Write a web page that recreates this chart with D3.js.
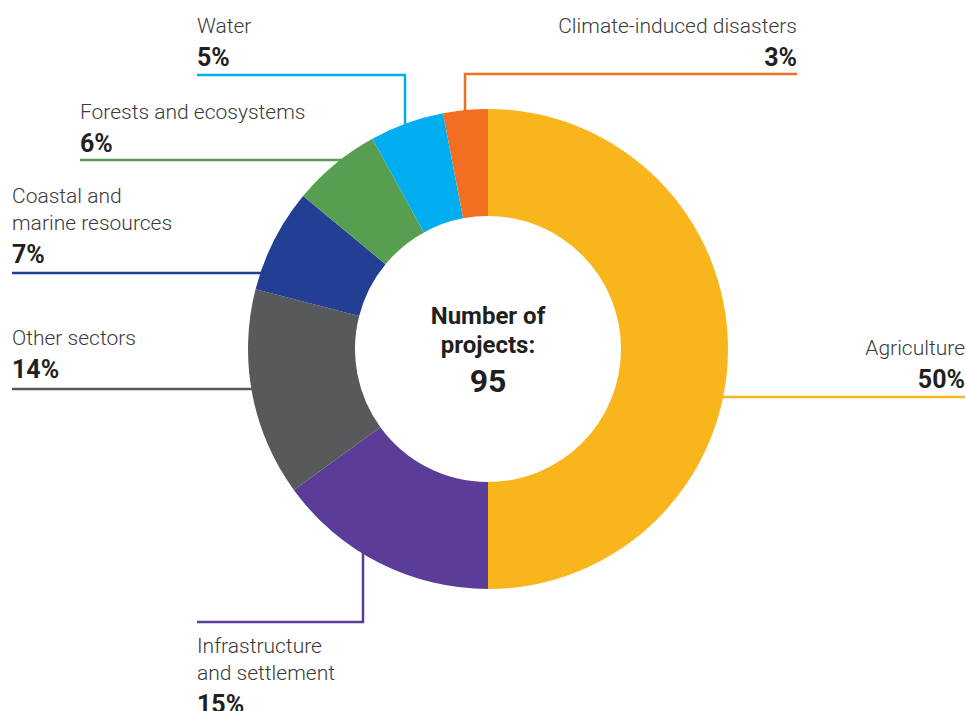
<!DOCTYPE html>
<html>
<head>
<meta charset="utf-8">
<script src="https://cdn.jsdelivr.net/npm/d3@7"></script>
<style>
  html, body { margin: 0; padding: 0; background: #fff; }
  svg { display: block; }
  .lbl { font-family: Roboto, "Open Sans", sans-serif; font-weight: 300; font-size: 21px; fill: #3a3a3a; }
  .pct { font-family: Roboto, "Open Sans", sans-serif; font-weight: 700; font-size: 25px; fill: #231f20; }
  .ctr { font-family: Roboto, "Open Sans", sans-serif; font-weight: 700; fill: #231f20; }
</style>
</head>
<body>
<script>
// Sector shares of the project portfolio (percent), clockwise from 12 o'clock
const sectors = ["Agriculture", "Infrastructure and settlement", "Other sectors",
                 "Coastal and marine resources", "Forests and ecosystems", "Water",
                 "Climate-induced disasters"];
const shares = [50, 15, 14, 7, 6, 5, 3];
const colours = ["#F9B51C", "#5B3C98", "#58595B", "#233F94", "#589E51", "#00AEEF", "#F26F22"];
const labelLines = [["Agriculture"], ["Infrastructure", "and settlement"], ["Other sectors"],
                    ["Coastal and", "marine resources"], ["Forests and ecosystems"], ["Water"],
                    ["Climate-induced disasters"]];
const totalProjects = 95;

const W = 966, H = 711;
const cx = 488, cy = 349, rOuter = 240, rInner = 133;

const svg = d3.select("body").append("svg").attr("width", W).attr("height", H);

// Callout layout for each sector: text anchor, leader line
// kind "h": horizontal line at y from x0 to the ring edge
// kind "elbow": horizontal line at y from x0 to x1, then vertical to the ring edge
const layout = [
  { tx: 965, ty: 355, anchor: "end",   kind: "h",     y: 397, x0: 965 },
  { tx: 197, ty: 653, anchor: "start", kind: "elbow", y: 622, x0: 197, x1: 363 },
  { tx: 12,  ty: 345, anchor: "start", kind: "h",     y: 389, x0: 12 },
  { tx: 12,  ty: 203, anchor: "start", kind: "h",     y: 273, x0: 12 },
  { tx: 80,  ty: 119, anchor: "start", kind: "h",     y: 160, x0: 80 },
  { tx: 197, ty: 33,  anchor: "start", kind: "elbow", y: 75,  x0: 197, x1: 405 },
  { tx: 797, ty: 33,  anchor: "end",   kind: "elbow", y: 74,  x0: 797, x1: 465 }
];

const data = sectors.map((s, i) => ({ name: s, value: shares[i], colour: colours[i], lines: labelLines[i], lay: layout[i] }));

const pie = d3.pie().sort(null).value(d => d.value).startAngle(0).endAngle(2 * Math.PI);
const arc = d3.arc().innerRadius(rInner).outerRadius(rOuter);
const arcs = pie(data);

// Leader lines, drawn under the ring so they stop at its edge
const leaders = svg.append("g").attr("fill", "none").attr("stroke-width", 2.5);
const inset = 6;
arcs.forEach(a => {
  const L = a.data.lay;
  let pts;
  if (L.kind === "h") {
    const dy = L.y - cy;
    const dx = Math.sqrt(rOuter * rOuter - dy * dy) - inset;
    const xe = L.x0 < cx ? cx - dx : cx + dx;
    pts = [[L.x0, L.y], [xe, L.y]];
  } else {
    const dx = L.x1 - cx;
    const dy = Math.sqrt(rOuter * rOuter - dx * dx) - inset;
    const ye = L.y < cy ? cy - dy : cy + dy;
    pts = [[L.x0, L.y], [L.x1, L.y], [L.x1, ye]];
  }
  leaders.append("path")
    .attr("d", d3.line()(pts))
    .attr("stroke", a.data.colour)
    .attr("stroke-linejoin", "miter");
});

// Ring
svg.append("g").attr("transform", `translate(${cx},${cy})`)
  .selectAll("path").data(arcs).join("path")
  .attr("d", arc)
  .attr("fill", d => d.data.colour);

// Callout text
const fmt = v => `${v}%`;
arcs.forEach(a => {
  const L = a.data.lay;
  const g = svg.append("g");
  a.data.lines.forEach((ln, j) => {
    g.append("text").attr("class", "lbl")
      .attr("x", L.tx).attr("y", L.ty + j * 27)
      .attr("text-anchor", L.anchor).text(ln);
  });
  g.append("text").attr("class", "pct")
    .attr("x", L.tx).attr("y", L.ty + (a.data.lines.length - 1) * 27 + 33)
    .attr("text-anchor", L.anchor).text(fmt(a.data.value));
});

// Centre total
const ctr = svg.append("g").attr("text-anchor", "middle");
ctr.append("text").attr("class", "ctr").attr("x", cx).attr("y", 324).attr("font-size", 24).text("Number of");
ctr.append("text").attr("class", "ctr").attr("x", cx).attr("y", 353).attr("font-size", 24).text("projects:");
ctr.append("text").attr("class", "ctr").attr("x", cx).attr("y", 392).attr("font-size", 32).text(totalProjects);
</script>
</body>
</html>
